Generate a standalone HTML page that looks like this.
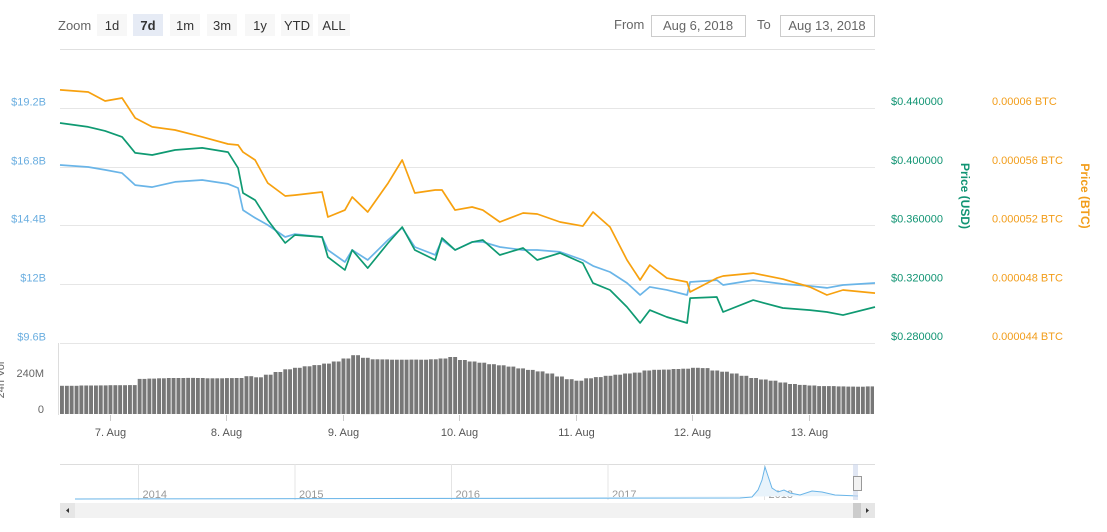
<!DOCTYPE html>
<html><head><meta charset="utf-8"><style>
body{margin:0;background:#fff;width:1107px;height:532px;overflow:hidden;font-family:"Liberation Sans","DejaVu Sans",sans-serif}
svg{position:absolute;left:0;top:0}
</style></head><body>
<svg id="c" width="1107" height="532" font-family="Liberation Sans, DejaVu Sans, sans-serif"></svg>
<script>
const hours=[13.7,19.5,23.0,26.5,29.2,32.7,37.4,43.0,48.3,50.4,51.4,53.9,56.5,60.1,62.1,67.7,68.9,72.4,73.9,77.1,81.3,84.2,86.8,91.0,92.4,95.1,98.6,100.8,104.3,109.1,112.0,116.7,121.4,123.5,127.0,130.5,133.2,135.2,138.7,142.9,143.5,149.0,150.3,156.5,162.6,168.2,171.7,175.0,181.6];
const marketCapB=[16.87,16.79,16.67,16.54,16.05,15.97,16.18,16.26,16.10,15.93,15.03,14.71,14.42,13.93,14.05,13.93,13.40,12.91,13.40,12.99,13.81,14.30,13.52,13.20,13.81,13.40,13.73,13.73,13.52,13.40,13.40,13.32,12.99,12.75,12.50,12.05,11.56,11.89,11.77,11.56,12.09,12.17,11.97,12.17,12.01,11.93,11.85,11.97,12.05];
const priceUSD=[.4298,.4271,.4244,.4203,.4094,.4080,.4114,.4128,.4100,.3991,.3821,.3773,.3637,.3481,.3535,.3522,.3385,.3297,.3433,.3310,.3481,.3590,.3433,.3365,.3515,.3433,.3487,.3501,.3399,.3447,.3365,.3413,.3344,.3208,.3161,.3045,.2936,.3024,.2977,.2936,.3106,.3113,.3011,.3092,.3038,.3024,.3011,.2990,.3045];
const priceMicroBTC=[61.23,61.09,60.48,60.68,59.32,58.71,58.50,58.03,57.55,57.48,57.00,56.46,54.89,54.01,54.07,54.28,52.58,53.05,53.94,52.92,54.89,56.46,54.21,54.42,54.42,53.05,53.26,53.05,52.24,52.85,52.78,52.24,51.96,52.92,51.90,49.65,48.29,49.31,48.42,48.15,47.47,48.42,48.56,48.76,48.35,47.81,47.27,47.61,47.40];
const volStart=13.7, volStepH=2;
const volumeM=[188,188,190,190,191,192,192,193,234,236,238,240,240,241,240,238,238,239,240,252,245,262,280,298,308,318,326,336,350,370,392,375,365,364,362,362,363,362,365,370,380,360,350,342,332,325,316,304,294,284,270,250,232,222,238,246,255,262,270,276,290,295,296,300,302,308,306,290,282,270,255,240,230,222,210,200,194,190,186,186,184,183,182,184];
const capTicks=[19.2,16.8,14.4,12,9.6];
const capLabels=["$19.2B","$16.8B","$14.4B","$12B","$9.6B"];
const usdTicks=[0.44,0.40,0.36,0.32,0.28];
const usdLabels=["$0.440000","$0.400000","$0.360000","$0.320000","$0.280000"];
const btcTicks=[60,56,52,48,44];
const btcLabels=["0.00006 BTC","0.000056 BTC","0.000052 BTC","0.000048 BTC","0.000044 BTC"];
const dayTicks=[24,48,72,96,120,144,168];
const dayLabels=["7. Aug","8. Aug","9. Aug","10. Aug","11. Aug","12. Aug","13. Aug"];
const volTicks=[0,240];const volLabels=["0","240M"];
const years=["2014","2015","2016","2017","2018"];

const svg=document.getElementById('c');const NS='http://www.w3.org/2000/svg';
function mk(t,a,txt){const e=document.createElementNS(NS,t);for(const k in a)e.setAttribute(k,a[k]);if(txt!=null)e.textContent=txt;svg.appendChild(e);return e;}
const X0=60,X1=875,T0=13.7,T1=181.6;
const xs=h=>X0+(h-T0)/(T1-T0)*(X1-X0);
const yCap=v=>108+(19.2-v)/2.4*58.75;
const yUsd=v=>108+(0.44-v)/0.04*58.75;
const yBtc=v=>108+(60-v)/4*58.75;
const yVol=v=>414-v/240*36;

let e=mk('text',{x:58,y:30,'font-size':13,fill:'#666'},'Zoom');

const btns=[["1d",97],["7d",133],["1m",170],["3m",207],["1y",245],["YTD",281],["ALL",318]];
btns.forEach(b=>{const w=b[0].length>2?32:30;
 let r=mk('rect',{x:b[1],y:14,width:w,height:22,fill:b[0]=='7d'?'#e6ebf5':'#f7f7f7'});
 
 let t=mk('text',{x:b[1]+w/2,y:30,'font-size':13,'text-anchor':'middle',fill:'#333','font-weight':b[0]=='7d'?'bold':'normal'},b[0]);
 });
e=mk('text',{x:614,y:29,'font-size':13,fill:'#666'},'From');
e=mk('rect',{x:651.5,y:15.5,width:94,height:21,fill:'#fff',stroke:'#ccc'});
e=mk('text',{x:698,y:30,'font-size':13,'text-anchor':'middle',fill:'#666'},'Aug 6, 2018');
e=mk('text',{x:757,y:29,'font-size':13,fill:'#666'},'To');
e=mk('rect',{x:780.5,y:15.5,width:94,height:21,fill:'#fff',stroke:'#ccc'});
e=mk('text',{x:827,y:30,'font-size':13,'text-anchor':'middle',fill:'#666'},'Aug 13, 2018');

e=mk('line',{x1:X0,x2:X1,y1:49.5,y2:49.5,stroke:'#e0e0e0'});
capTicks.forEach((v,i)=>{const y=Math.round(yCap(v))+.5;
 let g=mk('line',{x1:X0,x2:X1,y1:y,y2:y,stroke:'#e6e6e6'});
 let t=mk('text',{x:46,y:y-3,'font-size':11,'text-anchor':'end',fill:'#6aaee0'},capLabels[i]);});
usdTicks.forEach((v,i)=>{let t=mk('text',{x:891,y:yUsd(v)-3,'font-size':11,fill:'#119473'},usdLabels[i]);});
btcTicks.forEach((v,i)=>{let t=mk('text',{x:992,y:yBtc(v)-3,'font-size':11,fill:'#f29d1a'},btcLabels[i]);});
e=mk('text',{x:961,y:196,'font-size':12,'font-weight':'bold',fill:'#119473','text-anchor':'middle',transform:'rotate(90 961 196)'},'Price (USD)');
e=mk('text',{x:1081,y:196,'font-size':12,'font-weight':'bold',fill:'#f29d1a','text-anchor':'middle',transform:'rotate(90 1081 196)'},'Price (BTC)');
e=mk('text',{x:4,y:380,'font-size':11,fill:'#666','text-anchor':'middle',transform:'rotate(-90 4 380)'},'24h Vol');

e=mk('line',{x1:58.5,x2:58.5,y1:343,y2:415,stroke:'#ddd'});
volTicks.forEach((v,i)=>{let t=mk('text',{x:44,y:yVol(v)-1,'font-size':11,'text-anchor':'end',fill:'#666'},volLabels[i]);});
volumeM.forEach((v,i)=>{for(let k=0;k<2;k++){const h0=volStart+i*volStepH+k;const h1=h0+1;if(h0>=T1)continue;
 const x=xs(h0);const w=Math.max(1,xs(Math.min(h1,T1))-x-1);
 let r=mk('rect',{x:x.toFixed(1),y:yVol(v).toFixed(1),width:w.toFixed(1),height:(414-yVol(v)).toFixed(1),fill:'#777'});
 }});

function line(vals,sc,col,name){const d=vals.map((v,i)=>(i?'L':'M')+xs(hours[i]).toFixed(1)+','+sc(v).toFixed(1)).join('');
 let p=mk('path',{d:d,fill:'none',stroke:col,'stroke-width':1.7,'stroke-linejoin':'round'});}
line(marketCapB,yCap,'#6ab5e8','market-cap-line');
line(priceMicroBTC,yBtc,'#f7a10f','price-btc-line');
line(priceUSD,yUsd,'#0f9a72','price-usd-line');

dayTicks.forEach((h,i)=>{const x=Math.round(xs(h))+.5;
 let l=mk('line',{x1:x,x2:x,y1:415,y2:421,stroke:'#ccc'});
 let t=mk('text',{x:x,y:436,'font-size':11,'text-anchor':'middle',fill:'#555'},dayLabels[i]);});

e=mk('line',{x1:X0,x2:X1,y1:464.5,y2:464.5,stroke:'#ddd'});
years.forEach((y,i)=>{const x=138.5+i*156.5;
 let l=mk('line',{x1:x,x2:x,y1:464,y2:500,stroke:'#e4e4e4'});
 let t=mk('text',{x:x+4,y:498,'font-size':11,fill:'#999'},y);});
e=mk('path',{d:'M75,499L740,498L752,497L758,490L762,480L765,467L768,476L772,488L778,492L784,490L790,493L800,495L812,491L822,492L835,495L858,496',fill:'#e8f3fb',stroke:'#6ab5e8','stroke-width':1});
e=mk('rect',{x:853,y:464,width:5,height:36,fill:'#ccd6eb',opacity:.6});
e=mk('rect',{x:853.5,y:476.5,width:8,height:14,fill:'#f2f2f2',stroke:'#999'});
e=mk('rect',{x:60,y:503,width:815,height:15,fill:'#f2f2f2'});
e=mk('rect',{x:853,y:503,width:8,height:15,fill:'#ccc'});
e=mk('rect',{x:60,y:503,width:15,height:15,fill:'#e6e6e6'});
e=mk('path',{d:'M69,508L66,510.5L69,513Z',fill:'#333'});
e=mk('rect',{x:861,y:503,width:14,height:15,fill:'#e6e6e6'});
e=mk('path',{d:'M866,508L869,510.5L866,513Z',fill:'#333'});
</script>
</body></html>
